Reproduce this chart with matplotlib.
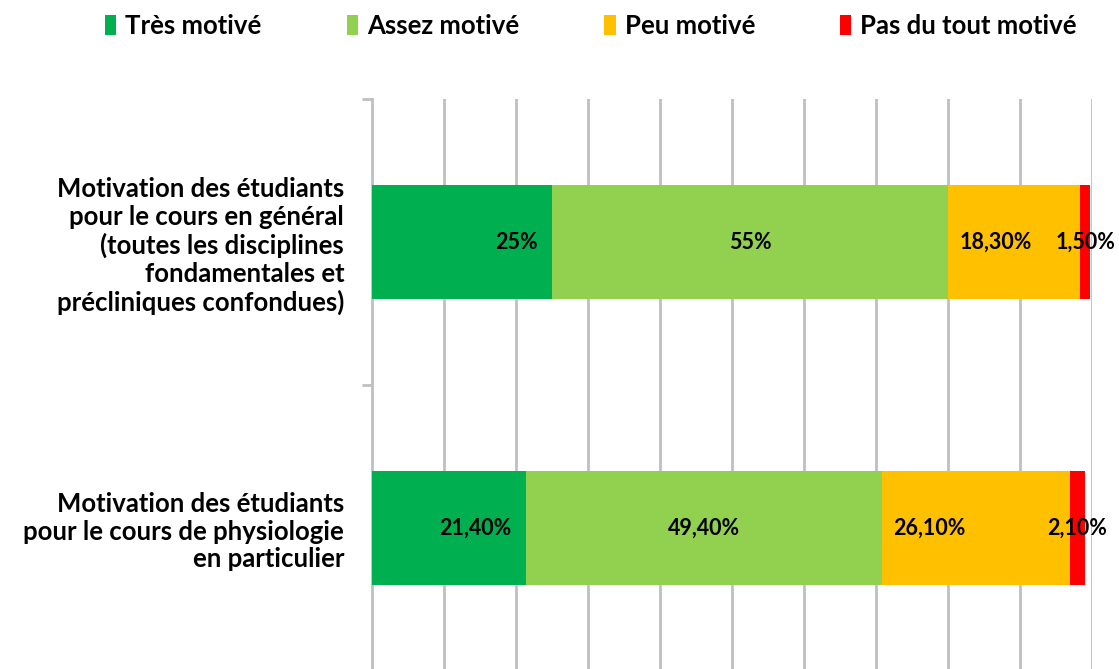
import matplotlib
matplotlib.use('Agg')
import matplotlib.pyplot as plt
import numpy as np

plt.rcParams['font.family'] = ['Lato', 'DejaVu Sans']
plt.rcParams['font.weight'] = 'bold'

categories = ['Motivation des étudiants\npour le cours en général\n(toutes les disciplines\nfondamentales et\nprécliniques confondues)',
              'Motivation des étudiants\npour le cours de physiologie\nen particulier']
series = ['Très motivé', 'Assez motivé', 'Peu motivé', 'Pas du tout motivé']
tres = [25, 21.4]
assez = [55, 49.4]
peu = [18.3, 26.1]
pas = [1.5, 2.1]
labels = [['25%', '55%', '18,30%', '1,50%'],
          ['21,40%', '49,40%', '26,10%', '2,10%']]
colors = ['#00B050', '#92D050', '#FFC000', '#FF0000']

fig = plt.figure(figsize=(11.19, 6.69), dpi=100)
ax = fig.add_axes([0.3324, -0.003, 0.6434, 0.855])

y = np.arange(len(categories))
left = np.zeros(len(categories))
vals = [tres, assez, peu, pas]
for i, (v, c, name) in enumerate(zip(vals, colors, series)):
    ax.barh(y, v, left=left, height=0.4, color=c, label=name, zorder=3)
    for j in range(len(categories)):
        if i == 0:
            x, ha = left[j] + v[j] - 2.0, 'right'
        elif i == 2:
            x, ha = left[j] + 1.6, 'left'
        else:
            x, ha = left[j] + v[j] / 2, 'center'
        ax.text(x, y[j], labels[j][i], ha=ha, va='center', fontsize=15.5,
                fontweight='bold', color='black', zorder=4)
    left = left + np.array(v)

ax.set_xlim(0, 100)
ax.set_ylim(1.5, -0.5)
ax.set_xticks(np.arange(10, 101, 10))
ax.xaxis.grid(True, color='#c0c0c0', linewidth=2, zorder=0)
ax.tick_params(axis='x', length=0, labelbottom=False)
ax.set_yticks(y)
ax.set_yticklabels(categories, fontsize=18.5, fontweight='bold', ha='right',
                   linespacing=1.18)
ax.set_yticks([-0.5, 0.5, 1.5], minor=True)
ax.tick_params(axis='y', which='major', length=0, pad=20)
ax.tick_params(axis='y', which='minor', length=7, width=2, color='#c0c0c0', direction='out')
for s in ['top', 'right', 'bottom']:
    ax.spines[s].set_visible(False)
ax.spines['left'].set_color('#c0c0c0')
ax.spines['left'].set_linewidth(2)

fig.legend(loc='upper center', bbox_to_anchor=(0.528, 1.014), ncol=4, frameon=False,
           prop={'weight': 'bold', 'size': 18.5}, handlelength=0.45,
           handleheight=0.8, handletextpad=0.35, columnspacing=3.3)

fig.savefig('out.png', dpi=100)
